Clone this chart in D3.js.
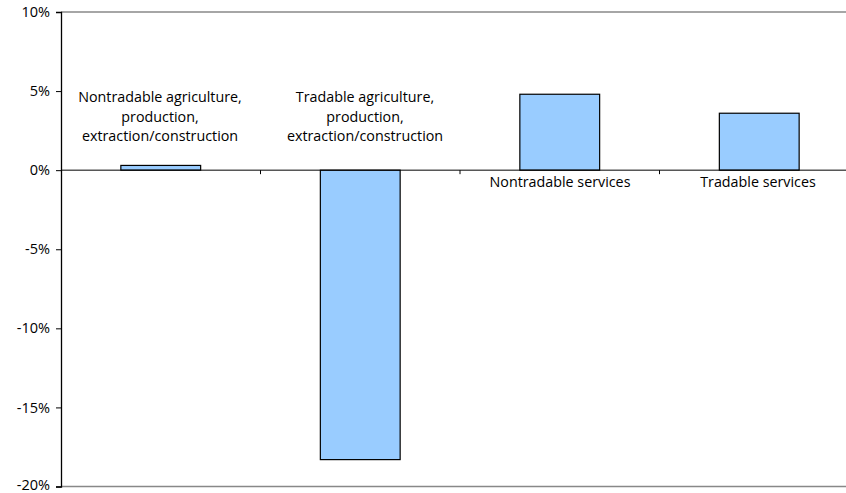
<!DOCTYPE html>
<html>
<head>
<script src="https://d3js.org/d3.v7.min.js"></script>
<style>
  body { margin: 0; background: #fff; }
  svg { font-family: "Open Sans", "Noto Sans", sans-serif; }
  .tick text { font-size: 14.5px; fill: #000; }
  .cat-label { font-size: 14.3px; fill: #000; }
</style>
</head>
<body>
<div id="chart"></div>
<script>
const categories = [
  "Nontradable agriculture, production, extraction/construction",
  "Tradable agriculture, production, extraction/construction",
  "Nontradable services",
  "Tradable services"
];
const labelLines = [
  ["Nontradable agriculture,", "production,", "extraction/construction"],
  ["Tradable agriculture,", "production,", "extraction/construction"],
  ["Nontradable services"],
  ["Tradable services"]
];
const values = [0.3, -18.3, 4.8, 3.6];
const yTicks = [10, 5, 0, -5, -10, -15, -20];

const width = 846, height = 493;
const margin = { top: 12, right: -13, bottom: 6, left: 61 };

const svg = d3.select("#chart").append("svg")
  .attr("width", width).attr("height", height);

// category bands (right end runs past the window edge, as in the original)
const xb = d3.scaleBand().domain(categories).range([margin.left, width - margin.right]);

const y = d3.scaleLinear().domain([-20, 10]).range([height - margin.bottom - 0.5, margin.top]);

// top and bottom gray lines
svg.append("line")
  .attr("x1", margin.left).attr("x2", width)
  .attr("y1", y(10)).attr("y2", y(10))
  .attr("stroke", "#888").attr("stroke-width", 1.3);
svg.append("line")
  .attr("x1", margin.left).attr("x2", width)
  .attr("y1", y(-20)).attr("y2", y(-20))
  .attr("stroke", "#888").attr("stroke-width", 1.3);

// bars
svg.append("g").selectAll("rect")
  .data(values)
  .enter().append("rect")
  .attr("x", (d, i) => xb(categories[i]) + xb.bandwidth() * 0.3)
  .attr("width", xb.bandwidth() * 0.4)
  .attr("y", d => y(Math.max(0, d)))
  .attr("height", d => Math.abs(y(d) - y(0)))
  .attr("fill", "#99CCFF")
  .attr("stroke", "#000")
  .attr("stroke-width", 1.2);

// zero line
svg.append("line")
  .attr("x1", margin.left).attr("x2", width)
  .attr("y1", y(0)).attr("y2", y(0))
  .attr("stroke", "#000");
// ticks at category boundaries
svg.append("g").selectAll("line")
  .data(categories.slice(1))
  .enter().append("line")
  .attr("x1", d => xb(d)).attr("x2", d => xb(d))
  .attr("y1", y(0)).attr("y2", y(0) + 4)
  .attr("stroke", "#000");

// y axis
const yAxis = svg.append("g")
  .attr("transform", `translate(${margin.left},0)`)
  .call(d3.axisLeft(y).tickValues(yTicks).tickSize(5).tickPadding(6).tickFormat(d => d + "%"));
yAxis.select(".domain").attr("stroke", "#000").attr("stroke-width", 1.3);
yAxis.selectAll(".tick line").attr("stroke", "#000");
yAxis.selectAll(".tick text").style("font-family", "'Open Sans', sans-serif")
  .attr("dy", d => d === -20 ? "0.2em" : "0.32em");

// category labels
const labelPos = [
  { cx: 160, top: 97 },
  { cx: 365, top: 97 },
  { cx: 560, top: 182 },
  { cx: 758, top: 182 }
];
labelLines.forEach((lines, i) => {
  const t = svg.append("text")
    .attr("class", "cat-label")
    .attr("text-anchor", "middle");
  lines.forEach((ln, j) => {
    t.append("tspan")
      .attr("x", labelPos[i].cx)
      .attr("y", labelPos[i].top + j * 19.5)
      .attr("dy", "0.35em")
      .text(ln);
  });
});
</script>
</body>
</html>
